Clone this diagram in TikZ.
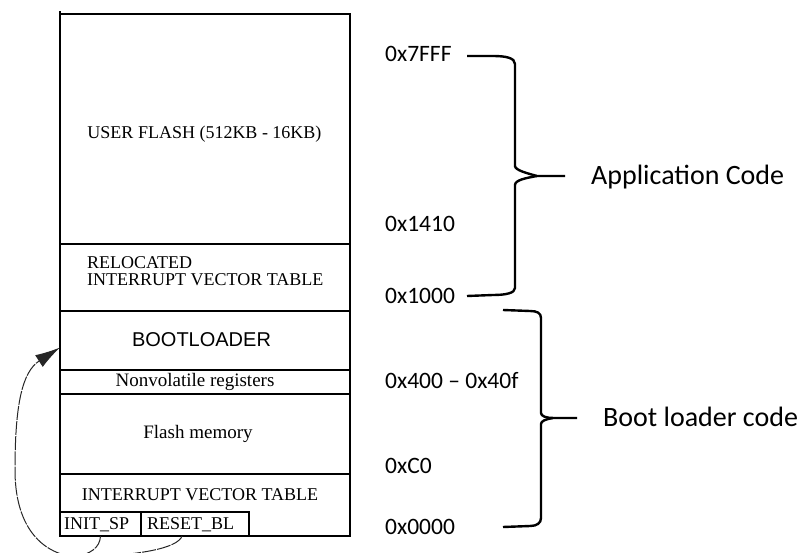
\documentclass[tikz,border=0pt]{standalone}
\usepackage{fontspec}
\setmainfont{Liberation Serif}
\newfontfamily\addrfont{Carlito}
\newfontfamily\headfont{Liberation Sans}
\usetikzlibrary{arrows.meta}

\begin{document}
\begin{tikzpicture}[x=1pt,y=-1pt,
  region/.style={draw, line width=2.6pt, inner sep=0pt, outer sep=0pt,
                 minimum width=290pt, anchor=north west},
  cell/.style={draw, line width=2.2pt, inner sep=0pt, outer sep=0pt, anchor=north west,
               minimum height=24pt},
  boxtext/.style={inner sep=0pt, font=\fontsize{18}{20}\selectfont},
  addr/.style={inner sep=0pt, anchor=base west, font=\addrfont\fontsize{23.5}{26}\selectfont},
  part/.style={inner sep=0pt, anchor=base west, font=\addrfont\fontsize{28}{30}\selectfont},
  brace/.style={line width=2.4pt, line join=round},
  jump/.style={line width=1pt, black!85, dash pattern=on 14pt off 1.2pt}
]
\useasboundingbox (0,0) rectangle (800,553);
\clip (0,0) rectangle (800,553);

% memory regions, top to bottom
\node[region, minimum height=230pt] (user)   at (60,14)  {};
\node[region, minimum height=67pt]  (reloc)  at (60,244) {};
\node[region, minimum height=59pt]  (boot)   at (60,311) {};
\node[region, minimum height=24pt]  (nvreg)  at (60,370) {};
\node[region, minimum height=80pt]  (flash)  at (60,394) {};
\node[region, minimum height=62pt]  (ivt)    at (60,474) {};
\node[cell, minimum width=81pt]     (initsp) at (60,512) {};
\node[cell, minimum width=108pt]    (resetbl) at (141,512) {};
\draw[line width=2.6pt] (user.north west) -- ++(0,-3);

% region texts
\node[boxtext, anchor=base] (tuser) at (204.5,139) {USER FLASH (512KB - 16KB)};
\node[boxtext, anchor=base west] (treloc1) at (87,268.5) {RELOCATED};
\node[boxtext, anchor=base west] (treloc2) at (87,286) {INTERRUPT VECTOR TABLE};
\node[inner sep=0pt, anchor=base, font=\headfont\fontsize{20}{22}\selectfont] (tboot) at (201.5,346.5) {BOOTLOADER};
\node[boxtext, anchor=base, font=\fontsize{19}{20}\selectfont] (tnv) at (195,386.5) {Nonvolatile registers};
\node[boxtext, anchor=base, font=\fontsize{19}{20}\selectfont] (tflash) at (198,438.5) {Flash memory};
\node[boxtext, anchor=base] (tivt) at (200,500) {INTERRUPT VECTOR TABLE};
\node[boxtext, anchor=base west] (tinit) at (64,529.5) {INIT\_SP};
\node[boxtext, anchor=base west] (treset) at (147,529.5) {RESET\_BL};

% addresses
\node[addr] (a7fff) at (385,62)  {0x7FFF};
\node[addr] (a1410) at (385,232) {0x1410};
\node[addr] (a1000) at (385,303) {0x1000};
\node[addr] (a400)  at (385,388) {0x400 – 0x40f};
\node[addr] (ac0)   at (385,473) {0xC0};
\node[addr] (a0000) at (385,534) {0x0000};

% braces and their captions
\draw[brace] (467,56) -- (493,56) .. controls (506,56) and (515,58) .. (515,64)
  -- (515,166) .. controls (515,170) and (526,173) .. (537,176) -- (565,176);
\draw[brace] (537,176) .. controls (526,178) and (515,180) .. (515,185)
  -- (515,288) .. controls (515,293) and (506,295) .. (493,295) -- (467,296);
\node[part] (lapp) at (591,185) {Application Code};

\draw[brace] (503,310) -- (530,311) .. controls (537,311) and (541,313) .. (541,318)
  -- (541,413) .. controls (541,416) and (546,418) .. (553,418) -- (577,418);
\draw[brace] (553,418) .. controls (546,419) and (541,421) .. (541,424)
  -- (541,518) .. controls (541,523) and (537,526) .. (530,526) -- (503,527);
\node[part] (lboot) at (603,426.5) {Boot loader code};

% reset jump into the bootloader
\coordinate (j) at (75,557);
\coordinate (entry) at ([yshift=-7pt]boot.west);
\draw[jump] (initsp.south) .. controls (100,548) and (90,554) .. (j);
\draw[jump] ([xshift=-13pt]resetbl.south) .. controls (178,548) and (140,556) .. (j);
\draw[jump, -{Latex[length=25pt,width=14pt]}] (j) .. controls (40,553) and (15,525) .. (15,470)
  .. controls (15,405) and (22,372) .. (entry);
\end{tikzpicture}
\end{document}
